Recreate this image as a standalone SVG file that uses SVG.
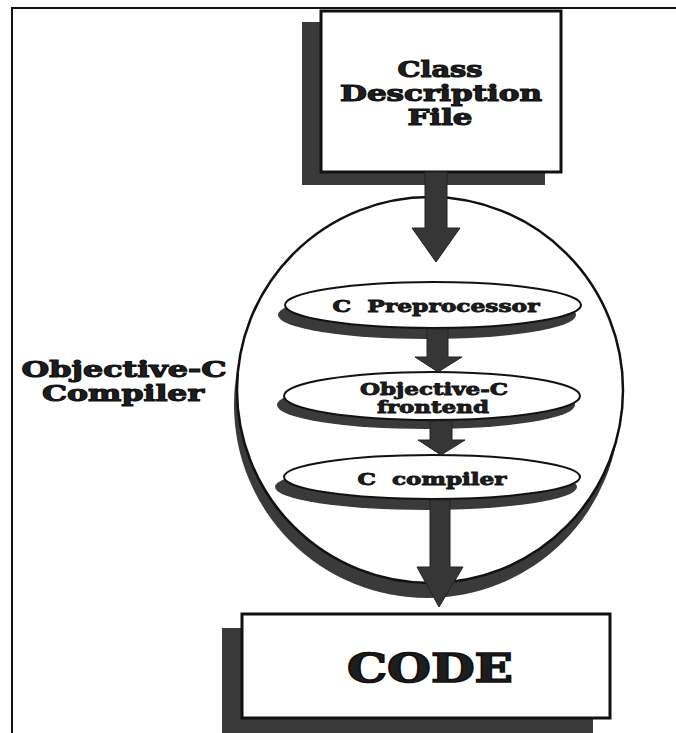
<svg xmlns="http://www.w3.org/2000/svg" width="676" height="733" viewBox="0 0 676 733">
<defs>
<style>
.frame{fill:none;stroke:#111;stroke-width:2}
.shadow{fill:#3a3a3a}
.box{fill:#fff;stroke:#111;stroke-width:3}
.ell{fill:#fff;stroke:#111;stroke-width:2}
.arrow{fill:#363636;stroke:#222;stroke-width:1}
.t{font-family:"DejaVu Serif","Liberation Serif",serif;font-weight:bold;fill:#1e1e1e;stroke:#111;stroke-width:1.1;text-anchor:middle}
.s{stroke-width:0.8}
</style>
</defs>
<rect width="676" height="733" fill="#fff"/>
<g id="frame">
<path class="frame" d="M12 733 V8 H676"/>
</g>
<g id="class-file">
<rect class="shadow" x="302" y="22" width="243" height="163"/>
<rect class="box" x="321" y="11" width="240" height="161"/>
<text class="t" x="440" y="77" font-size="22" textLength="85" lengthAdjust="spacingAndGlyphs">Class</text>
<text class="t" x="441" y="101" font-size="22" textLength="202" lengthAdjust="spacingAndGlyphs">Description</text>
<text class="t" x="440" y="125" font-size="22" textLength="65" lengthAdjust="spacingAndGlyphs">File</text>
</g>
<g id="compiler">
<circle class="shadow" cx="427" cy="405" r="193"/>
<circle cx="430" cy="390" r="193" fill="#fff" stroke="#111" stroke-width="2.5"/>
<text class="t" x="124" y="377" font-size="22" textLength="205" lengthAdjust="spacingAndGlyphs">Objective-C</text>
<text class="t" x="123" y="401" font-size="22" textLength="162" lengthAdjust="spacingAndGlyphs">Compiler</text>
</g>
<g id="preprocessor">
<ellipse class="shadow" cx="427" cy="315" rx="149" ry="24"/>
<ellipse class="ell" cx="433" cy="305" rx="148" ry="23"/>
<text class="t s" x="436" y="312" font-size="16" textLength="207" lengthAdjust="spacingAndGlyphs" xml:space="preserve">C  Preprocessor</text>
</g>
<g id="frontend">
<ellipse class="shadow" cx="426" cy="405" rx="149" ry="24"/>
<ellipse class="ell" cx="432" cy="396" rx="148" ry="24"/>
<text class="t s" x="434" y="395" font-size="16" textLength="148" lengthAdjust="spacingAndGlyphs">Objective-C</text>
<text class="t s" x="433" y="413" font-size="16" textLength="112" lengthAdjust="spacingAndGlyphs">frontend</text>
</g>
<g id="c-compiler">
<ellipse class="shadow" cx="426" cy="487" rx="151" ry="23"/>
<ellipse class="ell" cx="432" cy="477" rx="148" ry="22"/>
<text class="t s" x="432" y="485" font-size="16" textLength="149" lengthAdjust="spacingAndGlyphs" xml:space="preserve">C  compiler</text>
</g>
<g id="connectors">
<path class="arrow" d="M425 172 H447 V228 H460 L436 262 L412 228 H425 Z"/>
<path class="arrow" d="M427 329 H448 V357 H462 L438 372 L415 357 H427 Z"/>
<path class="arrow" d="M430 421 H452 V440 H465 L441 455 L418 440 H430 Z"/>
<path class="arrow" d="M430 500 H450 V567 H463 L439 607 L417 567 H430 Z"/>
</g>
<g id="code">
<rect class="shadow" x="222" y="628" width="371" height="110"/>
<rect class="box" x="242" y="614" width="368" height="104"/>
<text class="t" x="430" y="682" font-size="39" textLength="166" lengthAdjust="spacingAndGlyphs" style="stroke-width:1.6">CODE</text>
</g>
</svg>
